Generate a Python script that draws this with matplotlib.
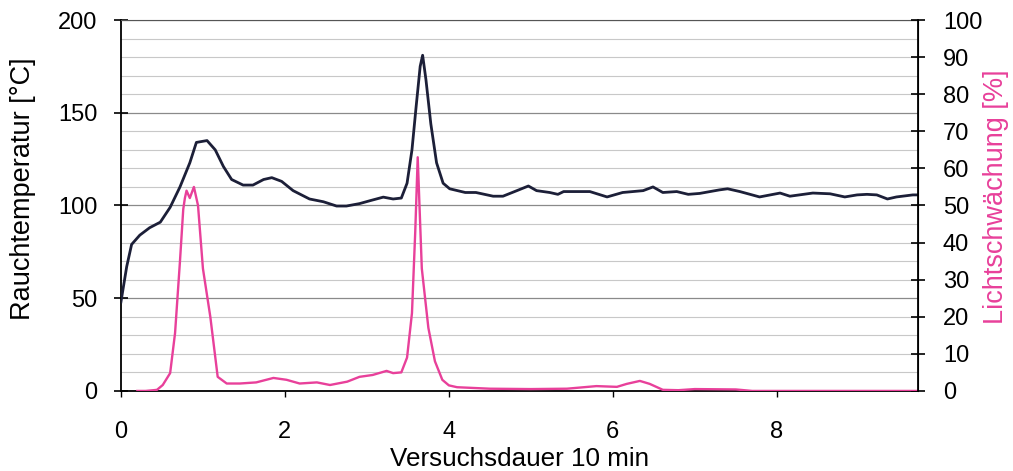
import matplotlib
matplotlib.use("Agg")
import matplotlib.pyplot as plt
import numpy as np
from matplotlib.ticker import MultipleLocator

plt.rcParams["font.family"] = ["Liberation Sans", "DejaVu Sans"]

# Rauchtemperatur [°C] over Versuchsdauer (units of 10 min)
temp_x = [0.0, 0.07, 0.13, 0.23, 0.35, 0.48, 0.6, 0.72, 0.84, 0.92, 1.05, 1.15,
          1.25, 1.35, 1.49, 1.61, 1.74, 1.84, 1.96, 2.1, 2.3, 2.47, 2.63, 2.75,
          2.91, 3.04, 3.2, 3.32, 3.42, 3.49, 3.55, 3.6, 3.65, 3.68, 3.72, 3.78,
          3.85, 3.93, 4.01, 4.2, 4.33, 4.54, 4.66, 4.83, 4.97, 5.07, 5.23, 5.33,
          5.4, 5.72, 5.93, 6.12, 6.37, 6.49, 6.61, 6.78, 6.92, 7.06, 7.3, 7.4,
          7.55, 7.79, 8.04, 8.16, 8.44, 8.65, 8.83, 8.98, 9.1, 9.22, 9.35, 9.46,
          9.66, 9.72]
temp_y = [48, 67, 79, 84, 88, 91, 99, 110, 123, 134, 135, 130,
          121, 114, 111, 111, 114, 115, 113, 108, 103.5, 102, 99.7, 99.7,
          101, 102.6, 104.5, 103.5, 104, 112, 130, 153, 175, 181, 168, 144,
          123, 112, 109, 107, 107, 105, 105, 108, 110.5, 108, 107, 106,
          107.5, 107.5, 104.6, 107, 108, 110, 107, 107.5, 106, 106.5, 108.4, 109,
          107.5, 104.6, 106.7, 105, 106.7, 106.3, 104.6, 105.7, 106, 105.7, 103.5, 104.6,
          105.7, 105.7]

# Lichtschwächung [%]
light_x = [0.2, 0.3, 0.4, 0.44, 0.51, 0.6, 0.66, 0.72, 0.76, 0.78, 0.8, 0.84,
           0.89, 0.94, 1.0, 1.09, 1.18, 1.29, 1.45, 1.65, 1.86, 2.02, 2.18, 2.39,
           2.55, 2.76, 2.91, 3.07, 3.24, 3.32, 3.42, 3.49, 3.55, 3.59, 3.62, 3.67,
           3.75, 3.83, 3.92, 4.0, 4.1, 4.5, 5.0, 5.44, 5.8, 6.05, 6.17, 6.33,
           6.45, 6.61, 6.8, 7.0, 7.5, 7.7, 8.5, 9.72]
light_y = [0, 0, 0.2, 0.3, 1.6, 4.8, 15.6, 35, 49, 52, 54, 52,
           55, 50, 33, 20, 3.8, 2, 2, 2.3, 3.5, 3, 2, 2.3,
           1.6, 2.5, 3.8, 4.3, 5.4, 4.8, 5, 9, 21, 43, 63, 33,
           17, 8, 3, 1.5, 1, 0.6, 0.5, 0.6, 1.3, 1.1, 1.9, 2.7,
           1.9, 0.3, 0.2, 0.5, 0.4, 0, 0, 0]

x_ticks = [0, 2, 4, 6, 8]

fig = plt.figure(figsize=(10.13, 4.71), dpi=100)
ax = fig.add_axes([0.1194, 0.170, 0.7866, 0.7875])
ax2 = ax.twinx()

ax.set_xlim(0, 9.72)
ax.set_ylim(0, 200)
ax2.set_ylim(0, 100)

# grid: light lines every 10 °C, darker ones every 50 °C
ax.yaxis.set_minor_locator(MultipleLocator(10))
ax.yaxis.set_major_locator(MultipleLocator(50))
ax.grid(which="minor", axis="y", color="#c8c8c8", linewidth=0.8)
ax.grid(which="major", axis="y", color="#8a8a8a", linewidth=0.9)
ax.set_axisbelow(True)

ax.plot(temp_x, temp_y, color="#1c1f38", linewidth=2.0, zorder=3)
ax2.plot(light_x, light_y, color="#e8409a", linewidth=1.7, zorder=2)

ax.set_xticks(x_ticks)
ax2.yaxis.set_major_locator(MultipleLocator(10))

ax.tick_params(axis="y", which="major", direction="inout", length=10, width=1.2,
               labelsize=17, pad=12)
ax.tick_params(axis="y", which="minor", length=0)
ax.tick_params(axis="x", direction="out", length=4.5, width=1.0, labelsize=17, pad=17)
ax2.tick_params(axis="y", direction="inout", length=10, width=1.2, labelsize=17, pad=13)

for sp in ("left", "bottom"):
    ax.spines[sp].set_linewidth(1.3)
ax.spines["top"].set_color("#555555")
ax2.spines["right"].set_linewidth(1.3)
ax2.spines["top"].set_visible(False)
ax2.spines["left"].set_visible(False)
ax2.spines["bottom"].set_visible(False)

ax.set_ylabel("Rauchtemperatur [°C]", fontsize=19.5)
ax.yaxis.set_label_coords(-0.106, 0.545)
ax.set_xlabel("Versuchsdauer 10 min", fontsize=18.7, labelpad=3)
ax2.set_ylabel("Lichtschwächung [%]", fontsize=19.5, color="#e8409a")
ax2.yaxis.set_label_coords(1.0815, 0.523)

fig.savefig("out.png", dpi=100)
